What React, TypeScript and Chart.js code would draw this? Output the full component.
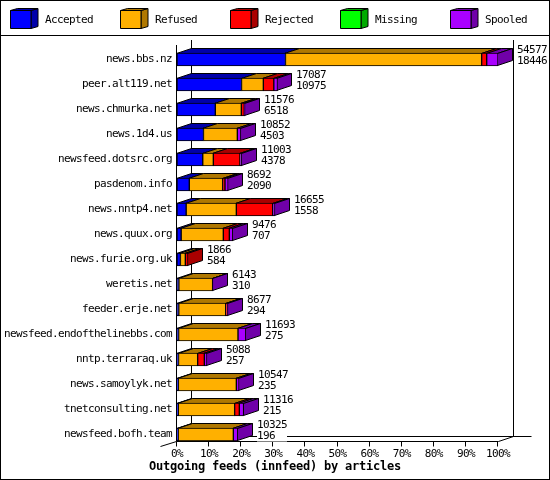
import React, { useEffect, useRef } from "react";
import { Chart, registerables } from "chart.js";

Chart.register(...registerables);

const hosts = ["news.bbs.nz","peer.alt119.net","news.chmurka.net","news.1d4.us","newsfeed.dotsrc.org","pasdenom.info","news.nntp4.net","news.quux.org","news.furie.org.uk","weretis.net","feeder.erje.net","newsfeed.endofthelinebbs.com","nntp.terraraq.uk","news.samoylyk.net","tnetconsulting.net","newsfeed.bofh.team"];
const offered = [54577,17087,11576,10852,11003,8692,16655,9476,1866,6143,8677,11693,5088,10547,11316,10325];
const accepted = [18446,10975,6518,4503,4378,2090,1558,707,584,310,294,275,257,235,215,196];
const refused = [33350,3705,4420,5757,1800,5670,8532,7168,833,5743,7986,10095,3253,9855,9585,9384];
const rejected = [860,1780,500,0,4520,400,6175,1025,449,0,290,0,1137,0,800,0];
const missing = [0,0,0,0,0,0,0,0,0,0,0,0,0,0,0,0];
const spooled = [1921,627,138,592,305,532,390,576,0,90,107,1323,441,457,716,745];

const seriesNames = ["Accepted","Refused","Rejected","Missing","Spooled"];
const seriesValues = [accepted,refused,rejected,missing,spooled];
const frontColors = ["#0000ff","#ffb000","#ff0000","#00ff00","#aa00ff"];
const darkColors = ["#0000aa","#b07800","#aa0000","#00aa00","#7000a8"];
const axisTitle = "Outgoing feeds (innfeed) by articles";
const MONO = '"DejaVu Sans Mono", monospace';
const DX = 15;
const DY = 5;
const FONT_SIZE = 11;
const SPACING = "-0.62px";

const poly = (ctx: CanvasRenderingContext2D, pts: number[][], fill: string) => {
  ctx.beginPath();
  pts.forEach((p, i) => (i ? ctx.lineTo(p[0], p[1]) : ctx.moveTo(p[0], p[1])));
  ctx.closePath();
  ctx.fillStyle = fill;
  ctx.fill();
  ctx.stroke();
};
const seg = (ctx: CanvasRenderingContext2D, a: number, b: number, c: number, d: number) => {
  ctx.beginPath();
  ctx.moveTo(a, b);
  ctx.lineTo(c, d);
  ctx.stroke();
};

const framePlugin = {
  id: "frame3d",
  beforeDraw(chart: any) {
    (chart.ctx as any).letterSpacing = SPACING;
  },
  beforeDatasetsDraw(chart: any) {
    const ctx: CanvasRenderingContext2D = chart.ctx;
    const xs = chart.scales.x;
    const ys = chart.scales.y;
    const W = chart.width;
    const H = chart.height;
    const x0 = Math.round(xs.getPixelForValue(0)) - 0.5;
    const x100 = Math.round(xs.getPixelForValue(100)) + 0.5;
    const floor = Math.round(ys.getPixelForValue(hosts.length - 1) + 6) + 0.5;
    ctx.save();
    ctx.strokeStyle = "#000";
    ctx.lineWidth = 1;

    ctx.strokeRect(0.5, 0.5, W - 1, H - 1);
    seg(ctx, 0, 35.5, W, 35.5);

    seriesNames.forEach((name, i) => {
      const x = 10.5 + 110 * i;
      poly(ctx, [[x + 20.5, 10.5], [x + 27.5, 8.5], [x + 27.5, 26.5], [x + 20.5, 28.5]], darkColors[i]);
      poly(ctx, [[x, 10.5], [x + 7, 8.5], [x + 27.5, 8.5], [x + 20.5, 10.5]], darkColors[i]);
      poly(ctx, [[x, 10.5], [x + 20.5, 10.5], [x + 20.5, 28.5], [x, 28.5]], frontColors[i]);
      ctx.fillStyle = "#000";
      ctx.font = FONT_SIZE + "px " + MONO;
      ctx.textAlign = "left";
      ctx.textBaseline = "middle";
      ctx.fillText(name, x + 34.5, 20.5);
    });

    seg(ctx, x0 + DX, 40, x0 + DX, floor - DY);
    seg(ctx, x100 + DX, 40, x100 + DX, floor - DY);
    seg(ctx, x0 + DX, floor - DY, x100 + DX + 18, floor - DY);
    seg(ctx, x0, 45, x0, floor);
    seg(ctx, x0, floor, x100, floor);
    seg(ctx, x0, floor, x0 - 16, floor + DY);
    seg(ctx, x100, floor, x100 + DX, floor - DY);
    xs.ticks.forEach((t: any) => {
      const p = Math.round(xs.getPixelForValue(t.value)) - 0.5;
      seg(ctx, p, floor, p, floor + 5);
    });

    hosts.forEach((_, r) => {
      let last = -1;
      seriesValues.forEach((vals, s) => {
        const el = chart.getDatasetMeta(s).data[r];
        if (!vals[r]) return;
        last = s;
        const top = el.y - el.height / 2 + 0.5;
        const a = Math.round(el.base) - 0.5;
        const b = Math.round(el.x) - 0.5;
        poly(ctx, [[a, top], [a + DX, top - DY], [b + DX, top - DY], [b, top]], darkColors[s]);
      });
      if (last >= 0) {
        const el = chart.getDatasetMeta(last).data[r];
        const top = el.y - el.height / 2 + 0.5;
        const bot = el.y + el.height / 2 - 0.5;
        const b = Math.round(el.x) - 0.5;
        poly(ctx, [[b, top], [b + DX, top - DY], [b + DX, bot - DY], [b, bot]], darkColors[last]);
      }
    });
    ctx.restore();
  },
  afterDatasetsDraw(chart: any) {
    const ctx: any = chart.ctx;
    ctx.save();
    ctx.font = FONT_SIZE + "px " + MONO;
    ctx.textAlign = "left";
    ctx.textBaseline = "middle";
    hosts.forEach((_, r) => {
      let end = 0;
      let cy = 0;
      seriesValues.forEach((vals, s) => {
        const el = chart.getDatasetMeta(s).data[r];
        if (el.x > end) end = el.x;
        cy = el.y;
      });
      const lx = Math.round(end) + DX + 4;
      const a = String(offered[r]);
      const b = String(accepted[r]);
      const w = Math.max(ctx.measureText(a).width, ctx.measureText(b).width);
      ctx.fillStyle = "#fff";
      ctx.fillRect(lx, cy - 15, w, 22);
      ctx.fillStyle = "#000";
      ctx.fillText(a, lx, cy - 9);
      ctx.fillText(b, lx, cy + 2);
    });
    ctx.letterSpacing = "-0.22px";
    ctx.font = "bold 12px " + MONO;
    ctx.textAlign = "center";
    ctx.fillText(axisTitle, chart.width / 2, 467);
    ctx.restore();
  },
};

export default function App() {
  const ref = useRef<HTMLCanvasElement>(null);
  useEffect(() => {
    const chart = new Chart(ref.current as HTMLCanvasElement, {
      type: "bar",
      data: {
        labels: hosts,
        datasets: seriesNames.map((name, i) => ({
          label: name,
          data: seriesValues[i].map((v) => (v / offered[0]) * 100),
          backgroundColor: frontColors[i],
          borderColor: "#000",
          borderWidth: 1,
          borderSkipped: false,
          barThickness: 13,
        })),
      } as any,
      options: {
        indexAxis: "y",
        animation: false,
        responsive: false,
        layout: { padding: { left: 0, right: 52, top: 47, bottom: 0 } },
        plugins: { legend: { display: false }, tooltip: { enabled: false }, title: { display: false } },
        scales: {
          x: {
            stacked: true,
            min: 0,
            max: 100,
            afterFit: (s: any) => { s.height = 33; },
            grid: { display: false, drawTicks: false },
            border: { display: false },
            ticks: {
              stepSize: 10,
              autoSkip: false,
              maxRotation: 0,
              padding: 1,
              color: "#000",
              font: { family: MONO, size: FONT_SIZE },
              callback: (v: any) => v + "%",
            },
          },
          y: {
            stacked: true,
            afterFit: (s: any) => { s.width = 177; },
            grid: { display: false, drawTicks: false },
            border: { display: false },
            ticks: {
              autoSkip: false,
              padding: 5,
              color: "#000",
              font: { family: MONO, size: FONT_SIZE },
            },
          },
        },
      } as any,
      plugins: [framePlugin as any],
    });
    return () => chart.destroy();
  }, []);
  return (
    <div style={{ position: "fixed", left: 0, top: 0, width: 550, height: 480, background: "#fff" }}>
      <canvas ref={ref} width={550} height={480} style={{ display: "block" }} />
    </div>
  );
}
